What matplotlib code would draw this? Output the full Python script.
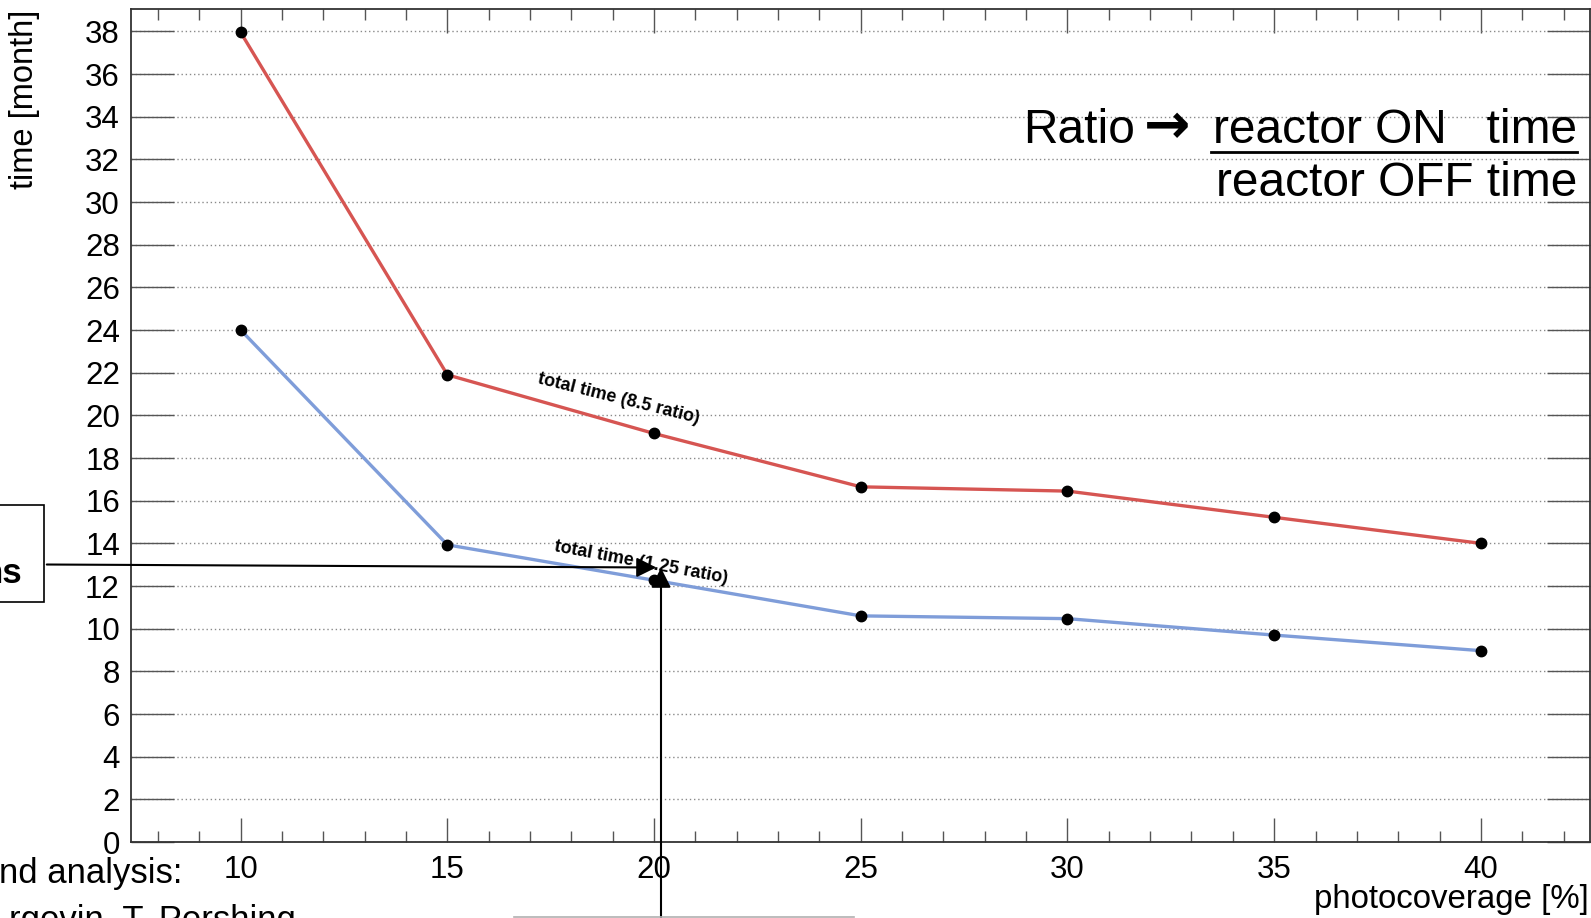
import matplotlib
matplotlib.use("Agg")
import matplotlib.pyplot as plt
from matplotlib.patches import Rectangle, FancyArrowPatch
from matplotlib.lines import Line2D
import numpy as np

plt.rcParams['font.family'] = ['Liberation Sans', 'DejaVu Sans']

# ---- data ----
photocoverage = [10, 15, 20, 25, 30, 35, 40]
time_ratio_8_5 = [37.95, 21.9, 19.15, 16.65, 16.45, 15.22, 14.0]
time_ratio_1_25 = [24.0, 13.93, 12.27, 10.6, 10.47, 9.7, 8.97]
x_major_ticks = [10, 15, 20, 25, 30, 35, 40]
y_major_ticks = list(range(0, 39, 2))
label_8_5 = "total time (8.5 ratio)"
label_1_25 = "total time (1.25 ratio)"

W, H = 1591, 918
fig = plt.figure(figsize=(W / 100, H / 100), dpi=100)

def fx(x):
    return x / W

def fy(y):
    return 1 - y / H

ax = fig.add_axes([fx(131), fy(842), fx(1590) - fx(131), fy(9) - fy(842)])

red = '#d65552'
blue = '#7f9dd9'

ax.plot(photocoverage, time_ratio_8_5, color=red, lw=2.4, zorder=3)
ax.plot(photocoverage, time_ratio_1_25, color=blue, lw=2.4, zorder=3)
ax.plot(photocoverage, time_ratio_8_5, 'o', color='black', ms=7.5, zorder=4)
ax.plot(photocoverage, time_ratio_1_25, 'o', color='black', ms=7.5, zorder=4)

ax.set_xlim(7.346, 42.64)
ax.set_ylim(0, 39.05)

ax.set_xticks(x_major_ticks)
ax.set_xticks(np.arange(8, 43, 1), minor=True)
ax.set_yticks(y_major_ticks)

ax.tick_params(axis='x', which='major', direction='in', length=17, width=1.0,
               color='#555555', top=True, bottom=True, labelsize=22.5, pad=9)
ax.tick_params(axis='x', which='minor', direction='in', length=8, width=1.0,
               color='#555555', top=True, bottom=True)
ax.tick_params(axis='y', which='major', direction='in', length=31, width=1.0,
               color='#555555', left=True, right=True, labelsize=22.5, pad=8)

ax.yaxis.grid(True, linestyle=(0, (1, 2)), color='#8a8a8a', lw=1.0)
ax.set_axisbelow(True)
for s in ax.spines.values():
    s.set_color('#333333')
    s.set_linewidth(1.3)

# annotations along lines
ax.text(19.15, 20.77, label_8_5, rotation=-14, fontsize=13, fontweight='bold',
        ha='center', va='center', zorder=5)
ax.text(19.69, 13.08, label_1_25, rotation=-10.5, fontsize=13, fontweight='bold',
        ha='center', va='center', zorder=5)

# axis titles
fig.text(fx(25), fy(10), 'time [month]', rotation=90, ha='center', va='top', fontsize=23.5)
fig.text(fx(1589), fy(908), 'photocoverage [%]', ha='right', va='baseline', fontsize=23.8)

# ratio explanation
fig.text(fx(1135), fy(143), 'Ratio', ha='right', va='baseline', fontsize=34.5)
fig.text(fx(1167), fy(128), '\u2192', ha='center', va='center', fontsize=40,
         family='DejaVu Sans', fontweight='bold')
fig.text(fx(1577), fy(143), 'reactor ON   time', ha='right', va='baseline', fontsize=34.5)
fig.text(fx(1577), fy(196), 'reactor OFF time', ha='right', va='baseline', fontsize=34.5)
fig.add_artist(Line2D([fx(1211), fx(1577)], [fy(152), fy(152)], color='black', lw=2.0))

# slide overlay elements
fig.add_artist(Rectangle((fx(-5), fy(602)), fx(49), fy(505) - fy(602), fill=False,
                         edgecolor='black', lw=1.2, transform=fig.transFigure))
fig.text(fx(22), fy(583), 'ns', ha='right', va='baseline', fontsize=25, fontweight='bold')
fig.add_artist(FancyArrowPatch((fx(44), fy(564.5)), (fx(659), fy(567.5)),
                               transform=fig.transFigure, arrowstyle='-|>',
                               mutation_scale=30, color='black', lw=1.5))
fig.add_artist(FancyArrowPatch((fx(661), fy(930)), (fx(661), fy(565)),
                               transform=fig.transFigure, arrowstyle='-|>',
                               mutation_scale=30, color='black', lw=1.5))
fig.add_artist(Line2D([fx(514), fx(854)], [fy(916.5), fy(916.5)], color='#b0b0b0', lw=1.2))
fig.text(fx(182), fy(883), 'nd analysis:', ha='right', va='baseline', fontsize=25)
fig.text(fx(296), fy(930), 'rgevin, T. Pershing', ha='right', va='baseline', fontsize=25)

fig.savefig('out.png', dpi=100)
